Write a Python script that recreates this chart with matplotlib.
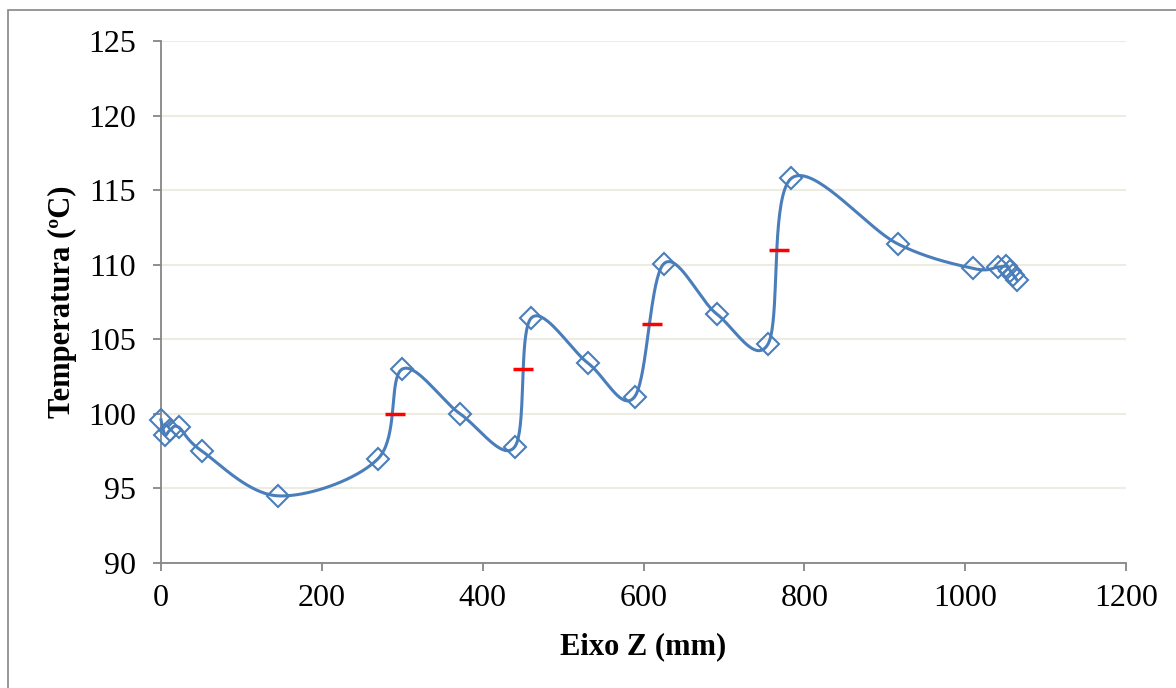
import numpy as np
import matplotlib.pyplot as plt
from matplotlib.patches import Rectangle

plt.rcParams['font.family'] = ['Liberation Serif', 'DejaVu Serif']

# Pontos medidos (eixo Z em mm, temperatura em ºC)
z_mm = [0, 5, 11, 22, 51, 146, 270, 300, 372, 440, 460, 531, 589, 625,
        691, 755, 784, 916, 1010, 1041, 1051, 1056, 1060, 1064]
temp = [99.6, 98.6, 98.9, 99.1, 97.5, 94.5, 97.0, 103.0, 100.0, 97.8, 106.4,
        103.4, 101.15, 110.05, 106.7, 104.7, 115.8, 111.4, 109.75, 109.85,
        109.9, 109.6, 109.3, 109.0]

# Marcas vermelhas
z_ref = [291, 450, 611, 769]
temp_ref = [100, 103, 106, 111]

xticks = [0, 200, 400, 600, 800, 1000, 1200]
yticks = [90, 95, 100, 105, 110, 115, 120, 125]

blue = '#4a7ebb'
gray = '#868686'


def excel_smooth(ax, x, y, n=40):
    # curva suavizada tipo Excel (Bezier com tangentes de Catmull-Rom) em pixels
    pts = ax.transData.transform(np.column_stack([x, y]))
    m = len(pts)
    out = []
    t = np.linspace(0, 1, n)[:, None]
    for i in range(m - 1):
        p0 = pts[max(i - 1, 0)]
        p1 = pts[i]
        p2 = pts[i + 1]
        p3 = pts[min(i + 2, m - 1)]
        c1 = p1 + (p2 - p0) / 6
        c2 = p2 - (p3 - p1) / 6
        seg = (1 - t)**3 * p1 + 3 * (1 - t)**2 * t * c1 + 3 * (1 - t) * t**2 * c2 + t**3 * p2
        out.append(seg if i == 0 else seg[1:])
    return ax.transData.inverted().transform(np.vstack(out))


fig = plt.figure(figsize=(11.76, 6.88), dpi=100)
ax = fig.add_axes([161 / 1176, 1 - 563 / 688, (1126 - 161) / 1176, (563 - 41) / 688])
ax.set_xlim(0, 1200)
ax.set_ylim(90, 125)

fig.patches.append(Rectangle((8 / 1176, -0.1), 1.2, 1 - 10 / 688 + 0.1,
                             transform=fig.transFigure, fill=False,
                             edgecolor=gray, lw=1.2))

curve = excel_smooth(ax, z_mm, temp)
ax.plot(curve[:, 0], curve[:, 1], color=blue, lw=2.2, zorder=3, clip_on=False)
ax.plot(z_mm, temp, linestyle='none', marker='D', markersize=11.5,
        markerfacecolor='none', markeredgecolor=blue, markeredgewidth=1.5,
        zorder=4, clip_on=False)
ax.plot(z_ref, temp_ref, linestyle='none', marker='_', markersize=14,
        markeredgecolor='#ff0000', markeredgewidth=2.5, zorder=5)

ax.set_xticks(xticks)
ax.set_yticks(yticks)
ax.grid(axis='y', color='#eeece1', lw=1.5, zorder=0)
ax.set_axisbelow(True)
for s in ['top', 'right']:
    ax.spines[s].set_visible(False)
for s in ['left', 'bottom']:
    ax.spines[s].set_color(gray)
    ax.spines[s].set_linewidth(1.3)
ax.tick_params(axis='both', direction='out', length=6, width=1.3, color=gray,
               labelsize=23, labelcolor='black')
ax.tick_params(axis='y', pad=12)
ax.tick_params(axis='x', pad=9)

ax.set_xlabel('Eixo Z (mm)', fontsize=22, fontweight='bold', labelpad=14)
ax.set_ylabel('Temperatura (ºC)', fontsize=22, fontweight='bold', labelpad=8)

fig.savefig('out.png', dpi=100)
